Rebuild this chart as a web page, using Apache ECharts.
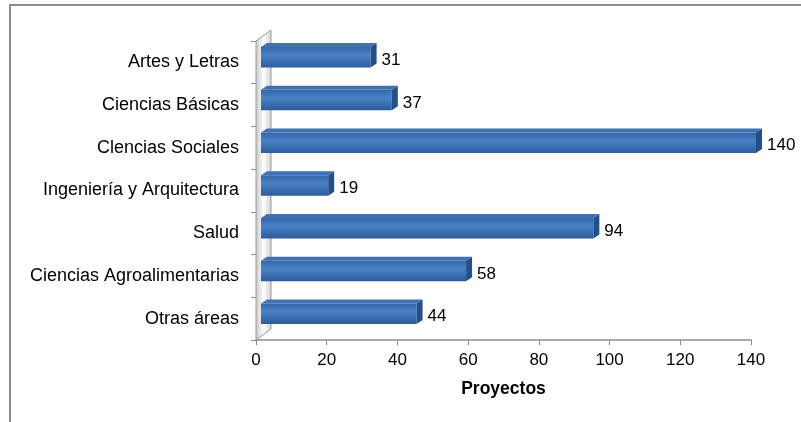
<!DOCTYPE html>
<html style="height: 100%">
<head>
	<meta charset="utf-8">
</head>
<body style="height: 100%; margin: 0">
	<div id="container" style="width: 801px; height: 422px"></div>
	<script type="text/javascript" src="https://cdn.jsdelivr.net/npm/echarts@6/dist/echarts.min.js"></script>
	<script type="text/javascript">
		// data
		var categories = ['Artes y Letras', 'Ciencias Básicas', 'Clencias Sociales', 'Ingeniería y Arquitectura', 'Salud', 'Ciencias Agroalimentarias', 'Otras áreas'];
		var proyectos = [31, 37, 140, 19, 94, 58, 44];
		var xMin = 0, xMax = 140, xStep = 20;

		var font = 'Liberation Sans, Arial, sans-serif';
		var myChart = echarts.init(document.getElementById('container'));

		var barFront = new echarts.graphic.LinearGradient(0, 0, 0, 1, [
			{ offset: 0, color: '#3566a6' },
			{ offset: 0.4, color: '#4782c6' },
			{ offset: 1, color: '#2c5c9b' }
		]);
		var wallFill = new echarts.graphic.LinearGradient(0, 0, 1, 0, [
			{ offset: 0, color: '#c4c4c4' },
			{ offset: 0.5, color: '#ffffff' },
			{ offset: 1, color: '#d0d0d0' }
		]);

		// 3D offsets (pixels)
		var wallDx = 15, wallDy = -11;
		var fx = 5, fy = -5, dx = 6, dy = -4;

		function renderWall(params, api) {
			var cs = params.coordSys;
			var x0 = cs.x, yT = cs.y, yB = cs.y + cs.height;
			return {
				type: 'group',
				children: [{
					type: 'polygon',
					shape: { points: [[x0, yT], [x0 + wallDx, yT + wallDy], [x0 + wallDx, yB + wallDy], [x0, yB]] },
					style: { fill: wallFill, stroke: '#9a9a9a', lineWidth: 1 }
				}]
			};
		}

		function renderBar(params, api) {
			var c = api.value(0), v = api.value(1);
			var p0 = api.coord([0, c]);
			var p1 = api.coord([v, c]);
			var band = api.size([0, 1])[1];
			var h = band * 0.48;
			var x0 = p0[0] + fx, x1 = p1[0] + fx;
			var yT = p0[1] - h / 2 + fy, yB = yT + h;
			return {
				type: 'group',
				children: [{
					type: 'rect',
					shape: { x: x0, y: yT, width: x1 - x0, height: h },
					style: { fill: barFront }
				}, {
					type: 'polygon',
					shape: { points: [[x0, yT], [x0 + dx, yT + dy], [x1 + dx, yT + dy], [x1, yT]] },
					style: { fill: '#3e72b2' }
				}, {
					type: 'polygon',
					shape: { points: [[x1, yT], [x1 + dx, yT + dy], [x1 + dx, yB + dy], [x1, yB]] },
					style: { fill: '#24508a' }
				}, {
					type: 'text',
					style: {
						text: String(v),
						x: x1 + dx + 5,
						y: (yT + yB) / 2 + 3,
						verticalAlign: 'middle',
						fontSize: 17,
						fontFamily: font,
						fill: '#000'
					}
				}]
			};
		}

		var option = {
			animation: false,
			backgroundColor: '#fff',
			graphic: [{
				type: 'rect',
				shape: { x: 10, y: 5, width: 900, height: 600 },
				style: { fill: 'none', stroke: '#8c8c8c', lineWidth: 2 },
				silent: true
			}],
			grid: { left: 256, right: 50, top: 41, bottom: 82 },
			xAxis: {
				type: 'value',
				min: xMin,
				max: xMax,
				interval: xStep,
				name: 'Proyectos',
				nameLocation: 'middle',
				nameGap: 40,
				nameTextStyle: { fontSize: 17.5, fontWeight: 'bold', fontFamily: font, color: '#000' },
				axisLine: { show: true, lineStyle: { color: '#8c8c8c', width: 1.5 } },
				axisTick: { show: true, length: 5, lineStyle: { color: '#8c8c8c' } },
				axisLabel: { fontSize: 17, fontFamily: font, color: '#000', margin: 12 },
				splitLine: { show: false }
			},
			yAxis: {
				type: 'category',
				inverse: true,
				data: categories,
				axisLine: { show: true, lineStyle: { color: '#9a9a9a' } },
				axisTick: { show: true, length: 5, lineStyle: { color: '#8c8c8c' } },
				axisLabel: { fontSize: 18, fontFamily: font, color: '#000', margin: 17 }
			},
			series: [{
				type: 'custom',
				renderItem: renderWall,
				data: [[0, 0]],
				z: 1,
				silent: true
			}, {
				type: 'custom',
				renderItem: renderBar,
				encode: { x: 1, y: 0 },
				data: categories.map(function (c, i) { return [i, proyectos[i]]; }),
				z: 2
			}]
		};

		myChart.setOption(option);
	</script>
</body>
</html>
